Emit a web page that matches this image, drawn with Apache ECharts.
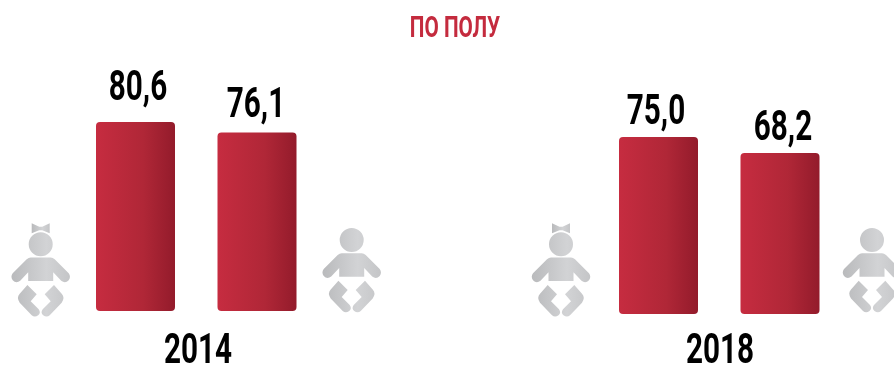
<!DOCTYPE html>
<html><head><meta charset="utf-8">
<style>html,body{margin:0;padding:0;background:#fff}#c{width:894px;height:367px}</style>
<script src="https://cdn.jsdelivr.net/npm/echarts@6/dist/echarts.min.js"></script>
</head><body><div id="c"></div>
<script>
const categories = ['Девочки', 'Мальчики'];
const years = ['2014', '2018'];
const values2014 = [80.6, 76.1];
const values2018 = [75.0, 68.2];
const titleText = 'ПО ПОЛУ';

const FONT = 'Roboto,"Liberation Sans",sans-serif';
const SQUEEZE = 0.69;
const chart = echarts.init(document.getElementById('c'));
const barFill = {type:'linear',x:0,y:0,x2:1,y2:0,colorStops:[{offset:0,color:'#c62c40'},{offset:0.6,color:'#b02737'},{offset:1,color:'#931b2b'}]};
const iconFill = {type:'linear',x:0,y:0,x2:1,y2:0,colorStops:[{offset:0,color:'#b9babc'},{offset:0.6,color:'#d2d3d5'},{offset:1,color:'#c4c5c7'}]};

const babyPath =
  'M-12 0A12 12 0 1 1 12 0A12 12 0 1 1 -12 0Z' +
  'M-10 13.3L10 13.3Q12 13.3 14 15L28 29Q30.5 32.5 28 36Q24.5 39.5 20.5 36.5L12.5 28L12.5 36.7L-12.5 36.7L-12.5 28L-20.5 36.5Q-24.5 39.5 -28 36Q-30.5 32.5 -28 29L-14 15Q-12 13.3 -10 13.3Z' +
  'M-13.3 40.7L-4 50L-10 57L-2 65Q0.5 68.5 -2.5 71Q-6 73.5 -9 71L-21 58.5Q-24.5 53 -21 49.5Z' +
  'M13.3 40.7L4 50L10 57L2 65Q-0.5 68.5 2.5 71Q6 73.5 9 71L21 58.5Q24.5 53 21 49.5Z';
const bowPath = 'M-9 -21L-9 -11L-1.5 -14L1.5 -14L9 -11L9 -21L1.5 -17.5L-1.5 -17.5Z';

function barSeries(idx, vals){
  return {type:'bar',xAxisIndex:idx,yAxisIndex:idx,data:vals,barWidth:79,z:2,
    itemStyle:{color:barFill,borderRadius:4}};
}
function labelSeries(idx, vals, nudges){
  return {type:'custom',coordinateSystem:'cartesian2d',xAxisIndex:idx,yAxisIndex:idx,silent:true,z:3,
    data:vals.map((v,i)=>[i,v]),
    renderItem:(params,api)=>{
      const p=api.coord([api.value(0),api.value(1)]);
      const n=nudges[params.dataIndex];
      return {type:'text',x:p[0]+n[0],y:p[1]+n[1],scaleX:SQUEEZE,
        style:{text:api.value(1).toFixed(1).replace('.',','),fill:'#000',align:'center',verticalAlign:'middle',
          fontFamily:FONT,fontWeight:'bold',fontSize:43}};
    }};
}
function squeezedText(text,x,y,size,color){
  return {type:'text',x:x,y:y,scaleX:SQUEEZE,silent:true,
    style:{text:text,fill:color,align:'center',verticalAlign:'middle',fontFamily:FONT,fontWeight:'bold',fontSize:size}};
}
const icons = [[40.7,244.3,1],[351.7,240,0],[561,244.3,1],[872,240,0]];
const option = {
  animation:false,
  backgroundColor:'#fff',
  grid:[
    {left:74.75,width:243,top:76.5,height:234.5,outerBoundsMode:'none'},
    {left:597.75,width:243,top:78,height:236,outerBoundsMode:'none'}
  ],
  xAxis:[0,1].map(i=>({type:'category',gridIndex:i,data:categories,axisLine:{show:false},axisTick:{show:false},axisLabel:{show:false}})),
  yAxis:[0,1].map(i=>({type:'value',gridIndex:i,min:0,max:100,show:false})),
  graphic:[
    squeezedText(titleText,455,29,30,'#c42b3e'),
    squeezedText(years[0],198,352,43,'#000'),
    squeezedText(years[1],720,352,43,'#000')
  ],
  series:[
    barSeries(0,values2014),
    barSeries(1,values2018),
    labelSeries(0,values2014,[[2.5,-33],[-1,-26.5]]),
    labelSeries(1,values2018,[[-2.5,-23.5],[3,-24]]),
    {type:'custom',coordinateSystem:'none',silent:true,data:icons,
      renderItem:(params,api)=>{
        const d=icons[params.dataIndex];
        return {type:'group',x:d[0],y:d[1],children:[
          {type:'path',shape:{pathData:babyPath},style:{fill:iconFill}}
        ].concat(d[2]?[{type:'path',shape:{pathData:bowPath},style:{fill:iconFill}}]:[])};
      }}
  ]
};
chart.setOption(option);
</script></body></html>
